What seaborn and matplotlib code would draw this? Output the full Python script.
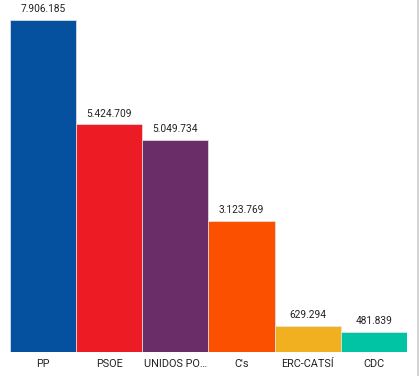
import matplotlib
matplotlib.use("Agg")
import matplotlib.pyplot as plt
import seaborn as sns
import pandas as pd
from matplotlib.lines import Line2D

# Data
parties = ["PP", "PSOE", "UNIDOS PO…", "C's", "ERC-CATSÍ", "CDC"]
votes = [7906185, 5424709, 5049734, 3123769, 629294, 481839]
colors = ["#05519F", "#ED1C24", "#6A2D67", "#FA5000", "#F0B020", "#00C4A3"]

sns.set_style("white")
plt.rcParams['font.family'] = ['Roboto', 'DejaVu Sans']

df = pd.DataFrame({"party": parties, "votes": votes})

fig = plt.figure(figsize=(4.2, 3.76), dpi=100)
ax = fig.add_axes([10 / 420, 24 / 376, 397 / 420, 352 / 376])

sns.barplot(data=df, x="party", y="votes", hue="party", palette=colors,
            saturation=1, width=1.0, dodge=False, legend=False, ax=ax,
            edgecolor="#e6e6e6", linewidth=0.5)

ax.set_ylim(0, max(votes) * 352 / 332)
ax.set_xlim(-0.5, len(parties) - 0.5)

def fmt(v):
    return f"{int(round(v)):,}".replace(",", ".")

for cont in ax.containers:
    ax.bar_label(cont, labels=[fmt(b.get_height()) for b in cont],
                 padding=4, fontsize=7.3, color="#222222")

ax.set_yticks([])
ax.set_xlabel("")
ax.set_ylabel("")
ax.tick_params(axis="x", length=0, labelsize=7.8, pad=5, colors="#222222")
for s in ax.spines.values():
    s.set_visible(False)

# light border at the right edge of the panel
fig.add_artist(Line2D([417.5 / 420, 417.5 / 420], [0, 1], color="#cccccc", lw=1.2))

fig.savefig("out.png", dpi=100)
